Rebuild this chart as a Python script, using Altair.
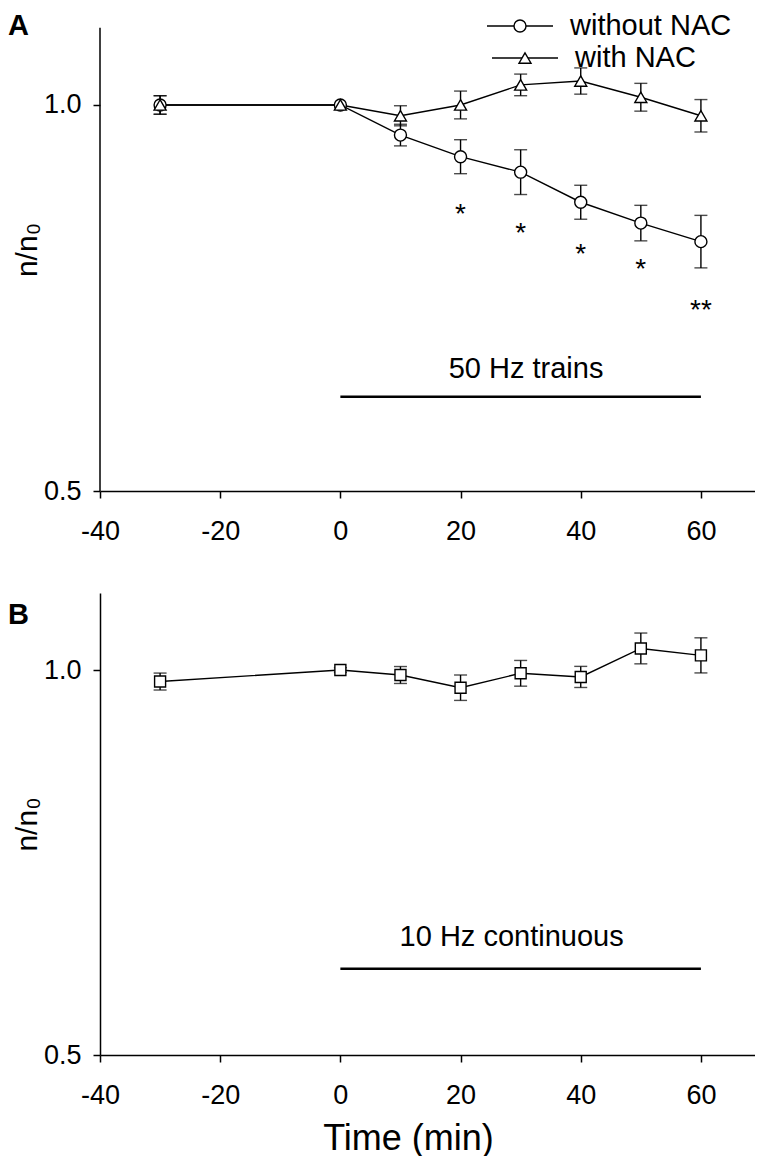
import altair as alt
import pandas as pd

FONT = "Liberation Sans, Arial, Helvetica, sans-serif"

# ---------------- data ----------------
time_min = [-30, 0, 10, 20, 30, 40, 50, 60]
series_names = ["without NAC", "with NAC"]
series_shapes = ["circle", "triangle-up"]

without_nac = [1.000, 1.000, 0.961, 0.933, 0.913, 0.874, 0.847, 0.823]
without_nac_err = [0.012, 0.000, 0.014, 0.022, 0.029, 0.022, 0.023, 0.034]
with_nac = [1.000, 1.000, 0.986, 1.000, 1.026, 1.031, 1.010, 0.986]
with_nac_err = [0.012, 0.000, 0.013, 0.018, 0.014, 0.017, 0.018, 0.021]

star_time = [20, 30, 40, 50, 60]
star_text = ["*", "*", "*", "*", "**"]
star_value = [0.868, 0.843, 0.816, 0.797, 0.744]

cont_10hz = [0.985, 1.000, 0.9935, 0.977, 0.9957, 0.991, 1.028, 1.019]
cont_10hz_err = [0.011, 0.003, 0.011, 0.0165, 0.0167, 0.0137, 0.020, 0.0228]

stim_a_label = ["50 Hz trains"]
stim_a_start, stim_a_end, stim_a_value = [0], [60], [0.622]
stim_a_text_x, stim_a_text_value = [30.9], [0.646]

stim_b_label = ["10 Hz continuous"]
stim_b_start, stim_b_end, stim_b_value = [0], [60], [0.612]
stim_b_text_x, stim_b_text_value = [28.5], [0.641]

panel_labels = ["A", "B"]
x_ticks = [-40, -20, 0, 20, 40, 60]
y_ticks = [0.5, 1.0]
x_range = [-40, 69]
y_range = [0.5, 1.1]            # extent of the drawn y axis
y_range_a_view = [0.5, 1.1256]  # panel A view also holds the legend above the axis

# ---------------- tables ----------------
df_a = pd.DataFrame({
    "time": time_min * 2,
    "value": without_nac + with_nac,
    "err": without_nac_err + with_nac_err,
    "series": [series_names[0]] * len(time_min) + [series_names[1]] * len(time_min),
})
df_a["lo"] = df_a["value"] - df_a["err"]
df_a["hi"] = df_a["value"] + df_a["err"]

df_b = pd.DataFrame({"time": time_min, "value": cont_10hz, "err": cont_10hz_err})
df_b["lo"] = df_b["value"] - df_b["err"]
df_b["hi"] = df_b["value"] + df_b["err"]

df_stars = pd.DataFrame({"time": star_time, "value": star_value, "label": star_text})
df_stim_a = pd.DataFrame({"start": stim_a_start, "end": stim_a_end, "value": stim_a_value,
                          "tx": stim_a_text_x, "tv": stim_a_text_value, "label": stim_a_label})
df_stim_b = pd.DataFrame({"start": stim_b_start, "end": stim_b_end, "value": stim_b_value,
                          "tx": stim_b_text_x, "tv": stim_b_text_value, "label": stim_b_label})
df_axis_a = pd.DataFrame({"time": [x_range[0]], "lo": [y_range[0]], "hi": [y_range[1]]})

x_scale = alt.Scale(domain=x_range, nice=False, zero=False)
y_scale_a = alt.Scale(domain=y_range_a_view, nice=False, zero=False)
y_scale_b = alt.Scale(domain=y_range, nice=False, zero=False)
Y_TITLE = "n/n\u2080"

W = 655
H_A, H_B = 483, 462
SW = 1.4


def xax(title):
    return alt.Axis(values=x_ticks, title=title, labelExpr="'' + datum.value",
                    labelPadding=20, labelFlush=False, titleX=308, titlePadding=13)


def yax(show_domain):
    return alt.Axis(values=y_ticks, title=Y_TITLE, format=".1f", labelPadding=12, titlePadding=1,
                    labelFlush=False, domain=show_domain)


def layers_for(df, ys, yaxis, xtitle):
    x = alt.X("time:Q", scale=x_scale, axis=xax(xtitle))
    base = alt.Chart(df)
    rules = base.mark_rule(color="black", strokeWidth=SW).encode(
        x=x, y=alt.Y("lo:Q", scale=ys, axis=yaxis), y2="hi:Q")
    cap_lo = base.mark_tick(orient="horizontal", size=13, thickness=SW, color="black").encode(
        x=x, y=alt.Y("lo:Q", scale=ys, axis=yaxis))
    cap_hi = base.mark_tick(orient="horizontal", size=13, thickness=SW, color="black").encode(
        x=x, y=alt.Y("hi:Q", scale=ys, axis=yaxis))
    return [rules, cap_lo, cap_hi]


def stim_layers(df, ys, yaxis, xtitle):
    base = alt.Chart(df)
    rule = base.mark_rule(color="black", strokeWidth=2.5).encode(
        x=alt.X("start:Q", scale=x_scale, axis=xax(xtitle)), x2="end:Q",
        y=alt.Y("value:Q", scale=ys, axis=yaxis))
    txt = base.mark_text(font=FONT, fontSize=29, color="black", baseline="alphabetic", align="center").encode(
        x=alt.X("tx:Q", scale=x_scale, axis=xax(xtitle)),
        y=alt.Y("tv:Q", scale=ys, axis=yaxis), text="label:N")
    return [rule, txt]


def panel_label(text, ypix):
    return alt.Chart(pd.DataFrame({"label": [text]})).mark_text(
        font=FONT, fontSize=29, fontWeight="bold", color="black", align="left", baseline="alphabetic"
    ).encode(x=alt.value(-92), y=alt.value(ypix), text="label:N")


def legend_entry(name, shape, x0, yc):
    """One legend row: a short line with the series marker, and its label."""
    src = alt.Chart(pd.DataFrame({"label": [name]}))
    seg = src.mark_rule(color="black", strokeWidth=SW).encode(
        x=alt.value(x0), x2=alt.value(x0 + 66), y=alt.value(yc))
    sym = src.mark_point(shape=shape, filled=True, fill="white", stroke="black", strokeWidth=SW,
                         size=144, opacity=1).encode(x=alt.value(x0 + 33), y=alt.value(yc))
    txt = src.mark_text(font=FONT, fontSize=29, color="black", align="left", baseline="middle").encode(
        x=alt.value(x0 + 83), y=alt.value(yc), text="label:N")
    return [seg, sym, txt]


# ---------- panel A ----------
yax_a = yax(False)
xa = alt.X("time:Q", scale=x_scale, axis=xax(None))
ya = alt.Y("value:Q", scale=y_scale_a, axis=yax_a)
base_a = alt.Chart(df_a)

axis_line_a = alt.Chart(df_axis_a).mark_rule(color="black", strokeWidth=1.5).encode(
    x=xa, y=alt.Y("lo:Q", scale=y_scale_a, axis=yax_a), y2="hi:Q")

line_a = base_a.mark_line(color="black", strokeWidth=SW).encode(x=xa, y=ya, detail="series:N")
pts_a = base_a.mark_point(filled=True, fill="white", stroke="black", strokeWidth=SW, size=144, opacity=1).encode(
    x=xa, y=ya,
    shape=alt.Shape("series:N", scale=alt.Scale(domain=series_names, range=series_shapes), legend=None))

stars = alt.Chart(df_stars).mark_text(font=FONT, fontSize=28, color="black", baseline="alphabetic", dy=16).encode(
    x=alt.X("time:Q", scale=x_scale, axis=xax(None)),
    y=alt.Y("value:Q", scale=y_scale_a, axis=yax_a), text="label:N")

legend_layers = (legend_entry(series_names[0], series_shapes[0], 387, 18)
                 + legend_entry(series_names[1], series_shapes[1], 392, 50))

panel_a = alt.layer(
    axis_line_a, *layers_for(df_a, y_scale_a, yax_a, None), line_a, pts_a, stars,
    *stim_layers(df_stim_a, y_scale_a, yax_a, None),
    *legend_layers, panel_label(panel_labels[0], 27)
).properties(width=W, height=H_A)

# ---------- panel B ----------
yax_b = yax(True)
xb = alt.X("time:Q", scale=x_scale, axis=xax("Time (min)"))
yb = alt.Y("value:Q", scale=y_scale_b, axis=yax_b)
base_b = alt.Chart(df_b)
line_b = base_b.mark_line(color="black", strokeWidth=SW).encode(x=xb, y=yb)
pts_b = base_b.mark_point(filled=True, fill="white", stroke="black", strokeWidth=SW, size=121,
                          shape="square", opacity=1).encode(x=xb, y=yb)

panel_b = alt.layer(
    *layers_for(df_b, y_scale_b, yax_b, "Time (min)"), line_b, pts_b,
    *stim_layers(df_stim_b, y_scale_b, yax_b, "Time (min)"),
    panel_label(panel_labels[1], 31)
).properties(width=W, height=H_B)

chart = alt.vconcat(panel_a, panel_b, spacing=49).properties(
    padding={"left": 0, "top": 0, "right": 0, "bottom": 0}
).configure_view(stroke=None).configure_axis(
    grid=False, domainColor="black", domainWidth=1.5, tickColor="black", tickWidth=1.5, tickSize=7,
    labelFont=FONT, labelFontSize=27, labelColor="black",
    titleFont=FONT, titleFontSize=30, titleColor="black", titleFontWeight="normal",
).configure_axisX(titleFontSize=36)

chart.save("out.html", embed_options={"renderer": "svg", "actions": False})
